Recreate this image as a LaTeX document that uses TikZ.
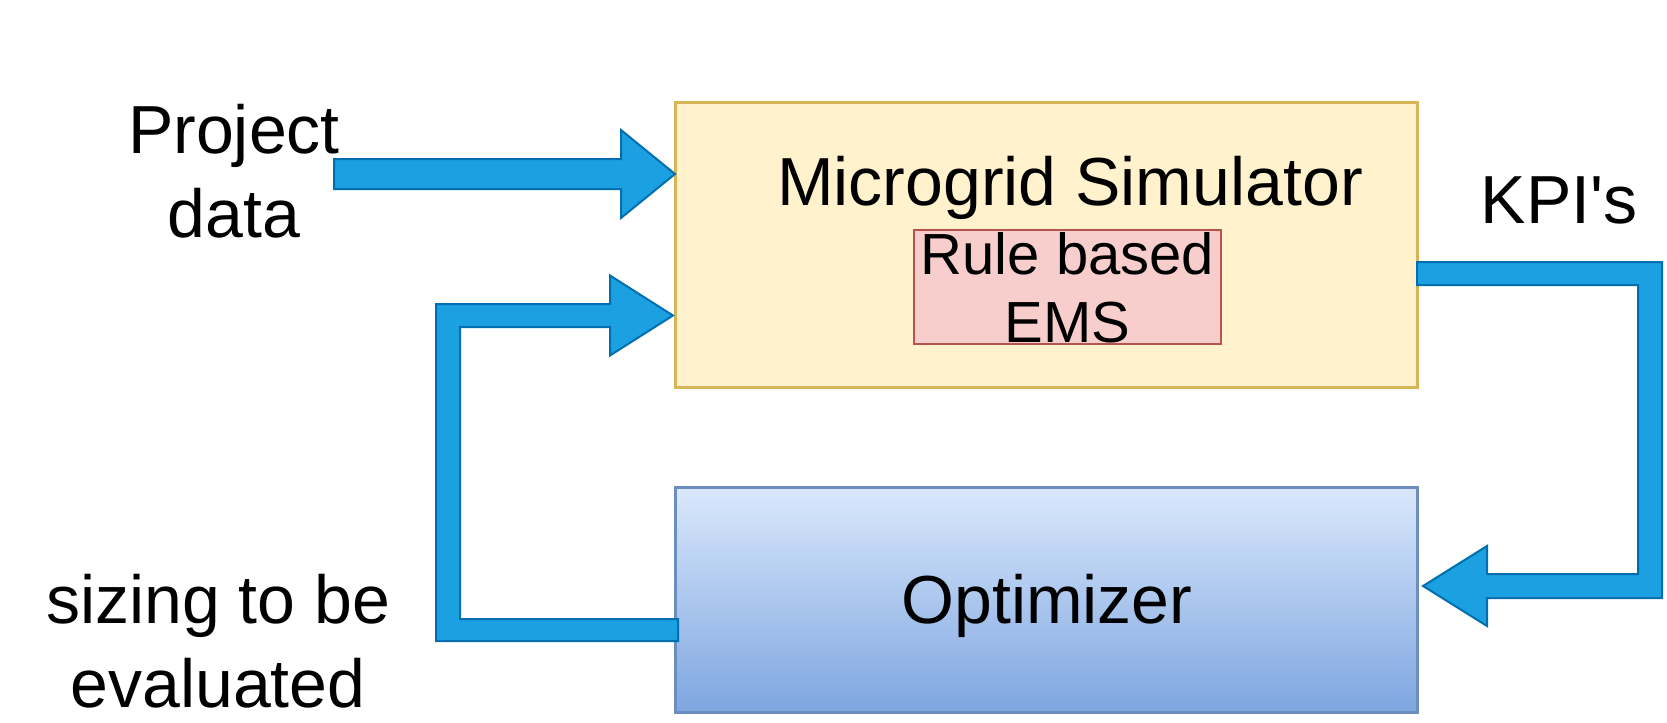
\documentclass[tikz,border=0pt]{standalone}
\usepackage{fontspec}
\setmainfont{Liberation Sans}[Ligatures=TeXOff]
\usetikzlibrary{calc}
\definecolor{simfill}{HTML}{FFF2CC}
\definecolor{simdraw}{HTML}{D6B656}
\definecolor{emsfill}{HTML}{F8CECC}
\definecolor{emsdraw}{HTML}{B85450}
\definecolor{opttop}{HTML}{DAE8FC}
\definecolor{optbot}{HTML}{7EA6E0}
\definecolor{optdraw}{HTML}{6C8EBF}
\definecolor{arrfill}{HTML}{1BA1E2}
\definecolor{arrdraw}{HTML}{006EAF}
\begin{document}
\begin{tikzpicture}[x=0.5pt,y=-0.5pt,
  box/.style={draw, line width=1.5pt, inner sep=0pt, outer sep=0pt},
  lbl/.style={font=\fontsize{34}{42}\selectfont, inner sep=0pt, align=center, anchor=base},
  fat/.style={fill=arrfill, draw=arrdraw, line width=1pt, line join=miter}]
\useasboundingbox (0,0) rectangle (1667,723);
% boxes
\node[box, fill=simfill, draw=simdraw, minimum width=371pt, minimum height=142.5pt] (sim) at (1046,244.5) {};
\node[box, fill=emsfill, draw=emsdraw, line width=1pt, minimum width=153.5pt, minimum height=57pt] (ems) at (1067.5,287) {};
\node[box, top color=opttop, bottom color=optbot, draw=optdraw, minimum width=371pt, minimum height=112.5pt] (opt) at (1046,599.5) {};
% texts (base anchor = baseline of the last line)
\node[lbl] (simtxt) at (1070,205) {Microgrid Simulator};
\node[lbl, font=\fontsize{29}{34}\selectfont] (emstxt) at (1067.5,342) {Rule based\\EMS};
\node[lbl] (opttxt) at (1047,623) {Optimizer};
\node[lbl] (pd) at (234,237) {Project\\data};
\node[lbl] (kpi) at (1559,223) {KPI's};
\node[lbl] (sz) at (218,707) {sizing to be\\evaluated};
% arrow: project data
\coordinate (pdS) at (334,174);
\coordinate (pdT) at ($(sim.north west)+(0,72)$);
\draw[fat] ($(pdS)+(0,-15)$) -- ($(pdT)+(-54,-15)$) -- ($(pdT)+(-54,-44)$) -- (pdT)
  -- ($(pdT)+(-54,44)$) -- ($(pdT)+(-54,15)$) -- ($(pdS)+(0,15)$) -- cycle;
% arrow: feedback from optimizer to simulator
\coordinate (fbS) at ($(opt.north west)+(3,143)$);
\coordinate (fbT) at ($(sim.north west)+(-2,213.5)$);
\coordinate (fbC) at (448,0);
\draw[fat] ($(fbS)+(0,-11)$) -- ($(fbC |- fbS)+(12,-11)$) -- ($(fbC |- fbT)+(12,11.5)$)
  -- ($(fbT)+(-63,11.5)$) -- ($(fbT)+(-63,40)$) -- (fbT) -- ($(fbT)+(-63,-40)$)
  -- ($(fbT)+(-63,-11.5)$) -- ($(fbC |- fbT)+(-12,-11.5)$) -- ($(fbC |- fbS)+(-12,11)$)
  -- ($(fbS)+(0,11)$) -- cycle;
% arrow: KPI's from simulator to optimizer
\coordinate (kS) at ($(sim.north east)+(0,171.5)$);
\coordinate (kT) at ($(opt.north east)+(6,99)$);
\coordinate (kC) at (1650,0);
\draw[fat] ($(kS)+(0,-11.5)$) -- ($(kC |- kS)+(12,-11.5)$) -- ($(kC |- kT)+(12,12)$)
  -- ($(kT)+(64,12)$) -- ($(kT)+(64,40)$) -- (kT) -- ($(kT)+(64,-40)$)
  -- ($(kT)+(64,-12)$) -- ($(kC |- kT)+(-12,-12)$) -- ($(kC |- kS)+(-12,11.5)$)
  -- ($(kS)+(0,11.5)$) -- cycle;
\end{tikzpicture}
\end{document}
